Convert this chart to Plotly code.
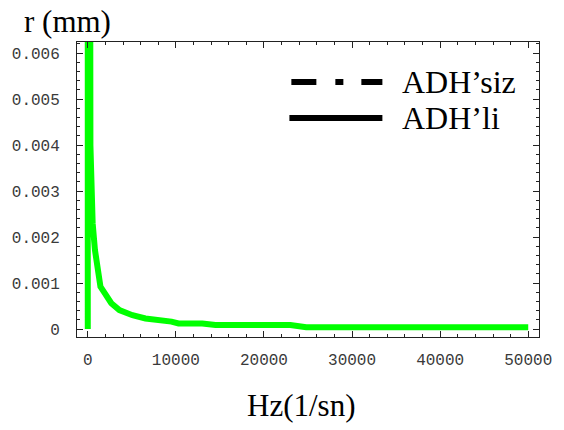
import plotly.graph_objects as go

# Data (frequency in Hz, radius in mm)
freq_hz = [0, 0, 300, 440, 555, 815, 1075, 1440, 1925, 2670, 3590, 5070,
           6550, 8030, 9500, 10300, 13000, 14500, 23000, 24800, 50000]
r_mm = [0, 0.05, 0.0040, 0.00302, 0.0023, 0.00172, 0.00128, 0.00092, 0.00078,
        0.00056, 0.00041, 0.00030, 0.00023, 0.00020, 0.00016, 0.00012,
        0.00012, 0.000087, 0.000087, 0.000037, 0.000037]

x_ticks = [0, 10000, 20000, 30000, 40000, 50000]
x_tick_text = ["0", "10000", "20000", "30000", "40000", "50000"]
y_ticks = [0, 0.001, 0.002, 0.003, 0.004, 0.005, 0.006]
y_tick_text = ["0", "0.001", "0.002", "0.003", "0.004", "0.005", "0.006"]
legend_names = ["ADH\u2019siz", "ADH\u2019li"]

fig = go.Figure()
fig.add_trace(go.Scatter(
    x=freq_hz, y=r_mm, mode="lines",
    line=dict(color="#00ff00", width=6),
    showlegend=False, hoverinfo="skip",
))

tickfont = dict(family="Liberation Mono", size=16, color="#3a3a3a")
axis_common = dict(
    showgrid=False, zeroline=False, showline=True, linecolor="#222222",
    linewidth=1, mirror="allticks", ticks="inside", ticklen=6,
    tickcolor="#222222", tickwidth=1, tickfont=tickfont,
)

fig.update_xaxes(
    range=[-1222, 51222], tickvals=x_ticks, ticktext=x_tick_text,
    ticklabelstandoff=8,
    minor=dict(dtick=2000, ticks="inside", ticklen=3, tickcolor="#222222"),
    **axis_common,
)
fig.update_yaxes(
    range=[-0.000174, 0.00624], tickvals=y_ticks, ticktext=y_tick_text,
    ticklabelstandoff=13,
    minor=dict(dtick=0.0002, ticks="inside", ticklen=3, tickcolor="#222222"),
    **axis_common,
)

# Legend drawn manually (long sample lines as in the reference)
legend_font = dict(family="Liberation Serif", size=32, color="black")
title_font = dict(family="Liberation Serif", size=31, color="black")
fig.add_shape(type="line", xref="paper", yref="paper",
              x0=(295 - 76) / 472, x1=(388 - 76) / 472,
              y0=(337 - 82) / 295, y1=(337 - 82) / 295,
              line=dict(color="black", width=6, dash="25px,19px,8px,18px"))
fig.add_shape(type="line", xref="paper", yref="paper",
              x0=(293 - 76) / 472, x1=(388 - 76) / 472,
              y0=(337 - 118) / 295, y1=(337 - 118) / 295,
              line=dict(color="black", width=6))
fig.add_annotation(text=legend_names[0], xref="paper", yref="paper",
                   x=(406 - 76) / 472, y=(337 - 82) / 295,
                   xanchor="left", yanchor="middle", showarrow=False, font=legend_font)
fig.add_annotation(text=legend_names[1], xref="paper", yref="paper",
                   x=(406 - 76) / 472, y=(337 - 118) / 295,
                   xanchor="left", yanchor="middle", showarrow=False, font=legend_font)

# Axis titles
fig.add_annotation(text="r (mm)", xref="paper", yref="paper",
                   x=(66 - 76) / 472, y=(337 - 21) / 295,
                   xanchor="center", yanchor="middle", showarrow=False, font=title_font)
fig.add_annotation(text="Hz(1/sn)", xref="paper", yref="paper",
                   x=(305 - 76) / 472, y=(337 - 405) / 295,
                   xanchor="center", yanchor="middle", showarrow=False, font=title_font)

fig.update_layout(
    width=564, height=430,
    margin=dict(l=76, r=16, t=42, b=93),
    paper_bgcolor="white", plot_bgcolor="white",
    showlegend=False,
)

fig.write_html("out.html")
